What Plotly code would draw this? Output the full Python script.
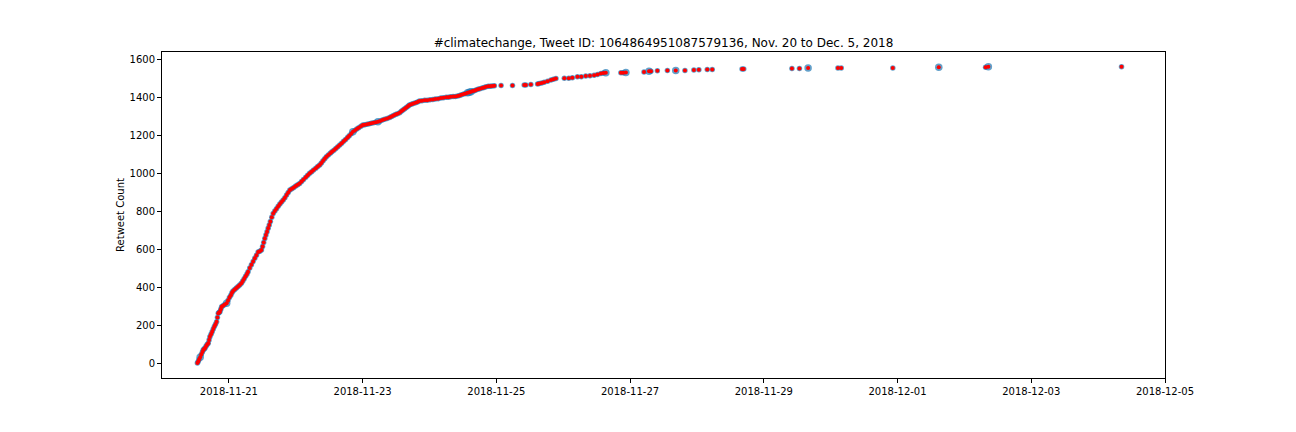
import pandas as pd
import plotly.graph_objects as go

# Hours since 2018-11-20 00:00 and cumulative retweet count
hours = [
    12.7, 13.0, 13.3, 13.7, 14.1, 14.5, 14.8, 15.1, 15.4, 15.8, 16.2, 16.6, 16.9, 17.2, 17.6, 18.0,
    18.4, 18.8, 19.2, 19.6, 19.9, 20.2, 20.5, 20.8, 21.1, 21.4, 21.9, 22.5, 23.2, 23.7, 24.2, 24.7,
    25.1, 25.5, 26.1, 26.7, 27.3, 27.9, 28.5, 29.0, 29.5, 30.0, 30.5, 30.9, 31.5, 32.1, 32.7, 33.3,
    33.9, 34.5, 35.1, 35.7, 36.1, 36.5, 36.9, 37.3, 37.7, 38.1, 38.5, 38.9, 39.4, 39.9, 40.5, 41.1,
    41.7, 42.3, 42.9, 43.5, 44.1, 44.7, 45.3, 45.9, 46.6, 47.3, 48.0, 48.7, 49.4, 50.1, 50.8, 51.6,
    52.3, 53.0, 53.7, 54.4, 55.2, 55.9, 56.6, 57.2, 57.8, 58.4, 59.0, 59.7, 60.4, 61.0, 61.7, 62.4,
    63.1, 63.8, 64.5, 65.2, 65.9, 66.6, 67.2, 67.9, 68.5, 69.2, 69.9, 70.6, 71.4, 72.1, 72.8, 73.6,
    74.4, 75.1, 75.9, 76.7, 77.5, 78.3, 79.1, 79.9, 80.8, 81.7, 82.4, 83.1, 83.8, 84.5, 85.3, 85.9,
    86.5, 87.1, 87.7, 88.3, 88.8, 89.5, 90.2, 91.0, 91.7, 92.4, 93.3, 94.3, 95.2, 96.2, 97.2, 98.1,
    99.1, 100.1, 101.0, 102.0, 102.8, 103.6, 104.5, 105.3, 106.1, 106.8, 107.5, 108.3, 109.0, 109.7,
    110.3, 110.9, 111.5, 112.1, 112.7, 113.4, 114.1, 114.9, 115.6, 116.3, 117.1, 117.8, 118.5, 119.3,
    121.7, 125.8, 130.0, 130.6, 132.4, 134.8, 135.4, 136.3, 137.2, 138.4, 139.6, 140.5, 141.4, 144.4,
    146.0, 147.3, 149.1, 150.5, 152.1, 153.6, 155.1, 156.3, 157.5, 158.4, 159.3, 164.7, 165.5, 166.5,
    173.0, 174.8, 175.5, 177.8, 181.4, 184.4, 187.7, 190.9, 192.7, 195.7, 197.5, 208.2, 208.8, 226.1,
    228.8, 231.9, 242.6, 243.8, 262.3, 278.8, 295.6, 296.6, 344.4,
]
retweets = [
    0, 8, 18, 30, 45, 58, 68, 74, 78, 88, 97, 104, 122, 139, 152, 165,
    180, 192, 205, 218, 240, 262, 266, 270, 284, 297, 302, 308, 315, 330, 345, 358,
    370, 380, 388, 396, 404, 412, 420, 432, 445, 458, 470, 481, 501, 518, 535, 552,
    568, 585, 590, 596, 615, 636, 657, 675, 692, 710, 728, 746, 768, 789, 802, 814,
    826, 838, 849, 859, 872, 886, 899, 912, 919, 926, 933, 940, 947, 957, 968, 979,
    990, 1000, 1009, 1018, 1027, 1036, 1044, 1055, 1066, 1077, 1088, 1097, 1106, 1114, 1122, 1131,
    1140, 1149, 1159, 1169, 1179, 1189, 1199, 1209, 1219, 1226, 1234, 1241, 1248, 1255, 1257, 1259,
    1262, 1264, 1267, 1269, 1272, 1276, 1281, 1286, 1290, 1295, 1300, 1305, 1310, 1315, 1320, 1327,
    1334, 1341, 1348, 1354, 1360, 1364, 1368, 1373, 1377, 1381, 1383, 1385, 1386, 1388, 1390, 1392,
    1394, 1397, 1399, 1401, 1402, 1404, 1405, 1406, 1408, 1411, 1415, 1418, 1421, 1425,
    1428, 1431, 1434, 1436, 1439, 1443, 1446, 1450, 1453, 1457, 1459, 1460, 1461, 1462,
    1464, 1464, 1466, 1466, 1469, 1471, 1474, 1477, 1481, 1486, 1492, 1496, 1500, 1501,
    1502, 1504, 1509, 1510, 1513, 1515, 1518, 1522, 1527, 1529, 1530, 1530, 1531, 1532,
    1534, 1538, 1539, 1541, 1543, 1543, 1543, 1545, 1546, 1548, 1548, 1550, 1550, 1553,
    1553, 1555, 1555, 1555, 1555, 1560, 1559, 1562, 1562,
]
# Hours at which the blue (weighted) markers are noticeably larger
large_marker_hours = [13.7, 23.2, 68.5, 77.5, 109.7, 110.3, 110.9, 159.3, 166.5, 174.8, 184.4, 231.9, 278.8, 296.6]

start = pd.Timestamp("2018-11-20 00:00:00")
times = [start + pd.Timedelta(hours=h) for h in hours]

blue_sizes = [7.5 if h in large_marker_hours else 5.5 for h in hours]

title_text = "#climatechange, Tweet ID: 1064864951087579136, Nov. 20 to Dec. 5, 2018"
tick_dates = ["2018-11-21", "2018-11-23", "2018-11-25", "2018-11-27",
              "2018-11-29", "2018-12-01", "2018-12-03", "2018-12-05"]

fig = go.Figure()
fig.add_trace(go.Scatter(
    x=times, y=retweets, mode="markers",
    marker=dict(color="#1f77b4", size=blue_sizes, line=dict(width=0)),
    showlegend=False, hoverinfo="skip"))
fig.add_trace(go.Scatter(
    x=times, y=retweets, mode="markers",
    marker=dict(color="#ff0000", size=4, line=dict(width=0)),
    showlegend=False))

axis_common = dict(showgrid=False, zeroline=False, showline=True, linecolor="black",
                   linewidth=1, mirror=True, ticks="outside", ticklen=4, tickwidth=1,
                   tickcolor="black", tickfont=dict(family="DejaVu Sans", size=10, color="black"))

# the page body adds an 8px offset, compensated in the margins
fig.update_layout(
    width=1296, height=432,
    margin=dict(l=154, r=139, t=44, b=62),
    paper_bgcolor="white", plot_bgcolor="white",
    font=dict(family="DejaVu Sans", color="black"),
    title=dict(text=title_text, x=0.5, xref="paper", xanchor="center",
               y=1, yref="paper", yanchor="bottom", pad=dict(b=5),
               font=dict(family="DejaVu Sans", size=12, color="black")),
    xaxis=dict(range=["2018-11-20 00:00", "2018-12-05 00:00"], type="date",
               tickvals=tick_dates, ticktext=tick_dates, **axis_common),
    yaxis=dict(range=[-79, 1640], tickvals=[0, 200, 400, 600, 800, 1000, 1200, 1400, 1600],
               title=dict(text="Retweet Count", font=dict(family="DejaVu Sans", size=10, color="black"),
                          standoff=3),
               **axis_common),
)

fig.write_html("out.html")
